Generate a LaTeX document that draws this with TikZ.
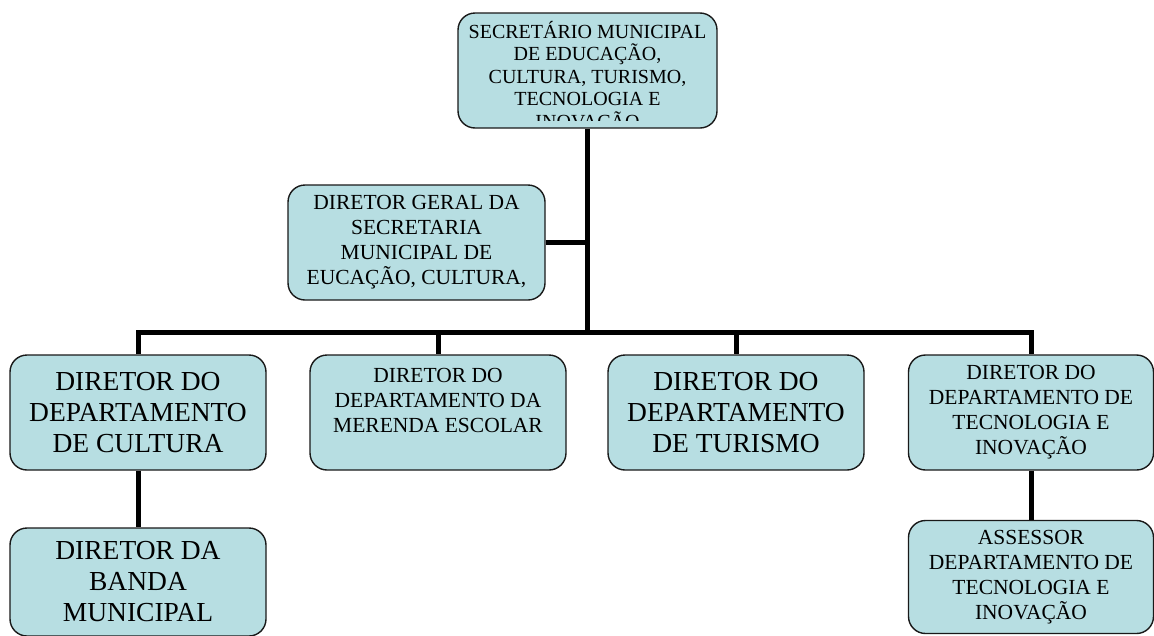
\documentclass[tikz,border=0pt]{standalone}
\usepackage{fontspec}
\setmainfont{Liberation Serif}
\usetikzlibrary{positioning}
\definecolor{boxfill}{RGB}{183,222,226}
\begin{document}
\begin{tikzpicture}[
    x=1pt, y=-1pt,
    unit/.style={draw=black!90, line width=1.4pt, fill=boxfill, rounded corners=17pt,
      minimum width=256pt, minimum height=115pt, inner sep=0pt, align=center},
    tiny/.style={font=\fontsize{20}{22.5}\selectfont},
    small/.style={font=\fontsize{21.5}{25}\selectfont},
    big/.style={font=\fontsize{27.5}{31}\selectfont},
    link/.style={line width=5pt}
    ]
  \useasboundingbox (0,0) rectangle (1154,635);
  % secretario, text cut at the bottom as in the chart
  \node[unit, minimum width=259pt] (sec) at (587.5,70.5) {};
  \begin{scope}
    \clip (460,15) rectangle (715,120);
    \node[tiny, anchor=north, inner sep=0pt, align=center] (sectxt) at (587.5,21)
      {SECRETÁRIO MUNICIPAL\\DE EDUCAÇÃO,\\CULTURA, TURISMO,\\TECNOLOGIA E\\INOVAÇÃO};
  \end{scope}
  \node[unit, small, minimum width=257pt] (geral) at (416.5,242.5)
    {DIRETOR GERAL DA\\SECRETARIA\\MUNICIPAL DE\\EUCAÇÃO, CULTURA,};
  % departamentos
  \node[unit, big] (cultura) at (138,412.5) {DIRETOR DO\\DEPARTAMENTO\\DE CULTURA};
  \node[unit] (merenda) at (438,412.5) {};
  \node[small, align=center] (merendatxt) at (438,400) {DIRETOR DO\\DEPARTAMENTO DA\\MERENDA ESCOLAR};
  \node[unit, big] (turismo) at (736,412.5) {DIRETOR DO\\DEPARTAMENTO\\DE TURISMO};
  \node[unit, small, minimum width=245pt] (tecno) at (1031,412.5)
    {DIRETOR DO\\DEPARTAMENTO DE\\TECNOLOGIA E\\INOVAÇÃO};
  \node[unit, big, minimum height=108pt] (banda) at (138,582) {DIRETOR DA\\BANDA\\MUNICIPAL};
  \node[unit, small, minimum width=245pt, minimum height=113pt] (assessor) at (1031,577)
    {ASSESSOR\\DEPARTAMENTO DE\\TECNOLOGIA E\\INOVAÇÃO};
  % ligacoes
  \coordinate (bus) at (587.5,332);
  \draw[link] (sec.south) -- (bus);
  \draw[link] (geral.east) -- (geral.east -| bus);
  \draw[link] (cultura.north) -- (cultura.north |- bus) -- (tecno.north |- bus) -- (tecno.north);
  \foreach \n in {merenda,turismo}
    \draw[link] (\n.north |- bus) -- (\n.north);
  \draw[link] (cultura) -- (banda);
  \draw[link] (tecno) -- (assessor);
\end{tikzpicture}
\end{document}
